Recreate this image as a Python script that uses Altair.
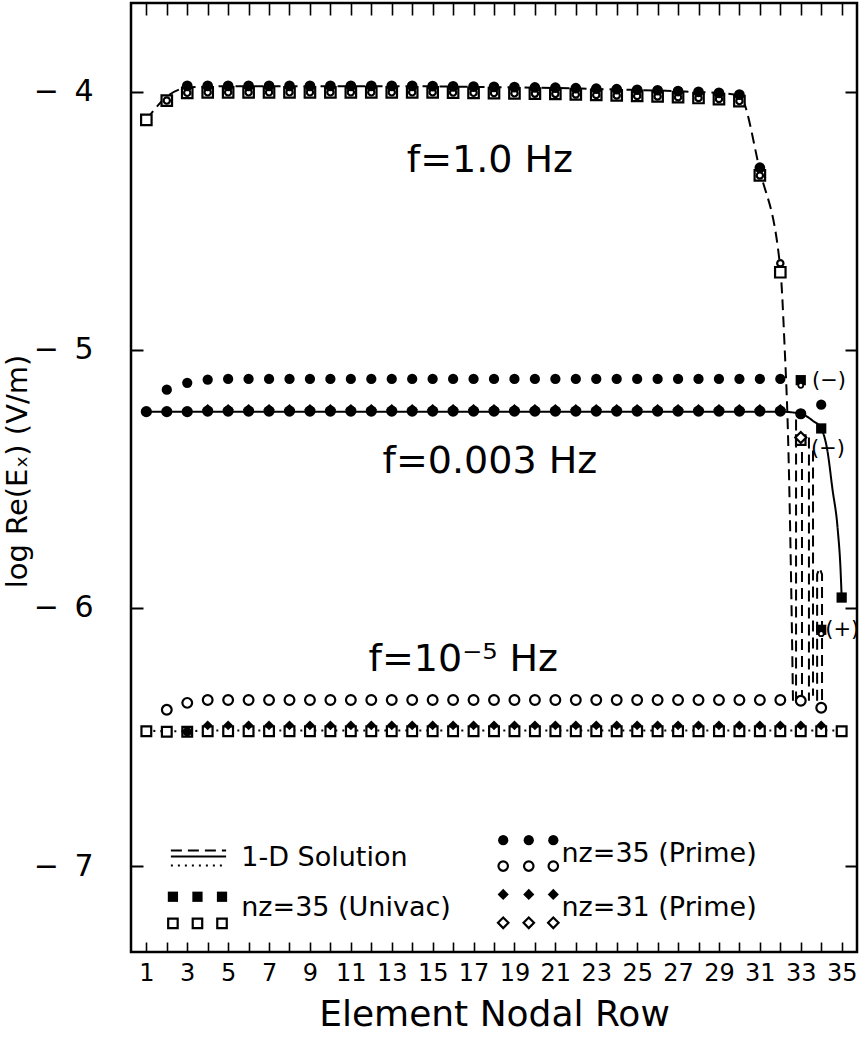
import altair as alt
import pandas as pd

FONT = "DejaVu Sans"

nodes = list(range(1, 36))
y_ticks = [-7, -6, -5, -4]

# ---------------- f = 1.0 Hz ----------------
f1_line_x = list(range(1, 33)) + [32.2, 32.4, 32.55, 32.62]
f1_line_y = [-4.11, -4.02, -3.985, -3.981, -3.979, -3.979, -3.979, -3.979, -3.979, -3.979,
             -3.979, -3.979, -3.979, -3.979, -3.980, -3.981, -3.982, -3.983, -3.984, -3.985,
             -3.986, -3.988, -3.990, -3.992, -3.994, -3.996, -3.999, -4.002, -4.006, -4.015,
             -4.306, -4.685, -4.97, -5.4, -6.0, -6.36]
f1_fc_x = list(range(3, 32))
f1_fc_y = [-3.978, -3.978, -3.978, -3.978, -3.978, -3.978, -3.978, -3.978, -3.978, -3.978,
           -3.978, -3.978, -3.979, -3.980, -3.981, -3.982, -3.983, -3.984, -3.985, -3.987,
           -3.989, -3.991, -3.993, -3.995, -3.998, -4.001, -4.005, -4.012, -4.295]
f1_os_x = list(range(1, 33))
f1_os_y = [-4.11, -4.035, -4.005, -4.003, -4.003, -4.003, -4.003, -4.003, -4.003, -4.003,
           -4.003, -4.003, -4.003, -4.003, -4.003, -4.004, -4.005, -4.006, -4.007, -4.008,
           -4.009, -4.011, -4.013, -4.015, -4.017, -4.019, -4.022, -4.025, -4.029, -4.037,
           -4.325, -4.70]
f1_oc_x = list(range(2, 33))
f1_oc_y = [-4.035, -4.005, -4.003, -4.003, -4.003, -4.003, -4.003, -4.003, -4.003, -4.003,
           -4.003, -4.003, -4.003, -4.003, -4.004, -4.005, -4.006, -4.007, -4.008, -4.009,
           -4.011, -4.013, -4.015, -4.017, -4.019, -4.022, -4.025, -4.029, -4.037, -4.325,
           -4.665]

# ---------------- f = 0.003 Hz ----------------
f2_line_x = list(range(1, 34)) + [33.6, 34, 34.3, 34.55, 34.8, 34.95, 35]
f2_line_y = [-5.24, -5.24, -5.24, -5.24, -5.24, -5.24, -5.24, -5.24, -5.24, -5.24,
             -5.24, -5.24, -5.24, -5.24, -5.24, -5.24, -5.24, -5.24, -5.24, -5.24,
             -5.24, -5.24, -5.24, -5.24, -5.24, -5.24, -5.24, -5.24, -5.24, -5.24,
             -5.24, -5.24, -5.248, -5.276, -5.305, -5.39, -5.54, -5.69, -5.86, -5.96]
f2_fc_up_x = list(range(2, 33)) + [34]
f2_fc_up_y = [-5.155, -5.128, -5.116, -5.113, -5.113, -5.113, -5.113, -5.113, -5.113, -5.113,
              -5.113, -5.113, -5.113, -5.113, -5.113, -5.113, -5.113, -5.113, -5.113, -5.113,
              -5.113, -5.113, -5.113, -5.113, -5.113, -5.113, -5.113, -5.113, -5.113, -5.113,
              -5.113, -5.213]
f2_fc_lo_x = list(range(1, 34))
f2_fc_lo_y = [-5.24, -5.24, -5.24, -5.238, -5.238, -5.238, -5.238, -5.238, -5.238, -5.238,
              -5.238, -5.238, -5.238, -5.238, -5.238, -5.238, -5.238, -5.238, -5.238, -5.238,
              -5.238, -5.238, -5.238, -5.238, -5.238, -5.238, -5.238, -5.238, -5.238, -5.238,
              -5.238, -5.238, -5.248]
f2_fd_x = list(range(4, 33))
f2_fd_y = [-5.232, -5.232, -5.232, -5.232, -5.232, -5.232, -5.232, -5.232, -5.232, -5.232,
           -5.232, -5.232, -5.232, -5.232, -5.232, -5.232, -5.232, -5.232, -5.232, -5.232,
           -5.232, -5.232, -5.232, -5.232, -5.232, -5.232, -5.232, -5.232, -5.232]
f2_fs_x = [33, 34, 35, 34]
f2_fs_y = [-5.118, -5.305, -5.96, -6.085]
f2_oc_x = [33, 34]
f2_oc_y = [-5.138, -6.1]
f2_od_x = [33]
f2_od_y = [-5.34]
f2_os_x = [33]
f2_os_y = [-5.35]

# sign-change branches of the 1-D solution (dashed)
br_id = ["a", "a", "b", "b", "c", "c", "d", "d", "e", "e", "e", "e", "e"]
br_x = [32.77, 32.77, 33.06, 33.06, 33.4, 33.4, 33.6, 33.6, 33.8, 33.8, 33.92, 34.04, 34.04]
br_y = [-5.27, -6.36, -5.33, -6.34, -5.34, -6.36, -5.39, -6.34, -6.36, -5.87, -5.845, -5.87, -6.36]

# ---------------- f = 1e-5 Hz ----------------
f3_line_x = list(range(1, 36))
f3_line_y = [-6.475, -6.478, -6.478, -6.475, -6.475, -6.475, -6.475, -6.475, -6.475, -6.475,
             -6.475, -6.475, -6.475, -6.475, -6.475, -6.475, -6.475, -6.475, -6.475, -6.475,
             -6.475, -6.475, -6.475, -6.475, -6.475, -6.475, -6.475, -6.475, -6.475, -6.475,
             -6.475, -6.475, -6.475, -6.475, -6.475]
f3_oc_up_x = list(range(2, 35))
f3_oc_up_y = [-6.395, -6.368, -6.357, -6.357, -6.357, -6.357, -6.357, -6.357, -6.357, -6.357,
              -6.357, -6.357, -6.357, -6.357, -6.357, -6.357, -6.357, -6.357, -6.357, -6.357,
              -6.357, -6.357, -6.357, -6.357, -6.357, -6.357, -6.357, -6.357, -6.357, -6.357,
              -6.357, -6.36, -6.387]
f3_os_x = list(range(1, 36))
f3_os_y = [-6.478, -6.48, -6.48, -6.478, -6.478, -6.478, -6.478, -6.478, -6.478, -6.478,
           -6.478, -6.478, -6.478, -6.478, -6.478, -6.478, -6.478, -6.478, -6.478, -6.478,
           -6.478, -6.478, -6.478, -6.478, -6.478, -6.478, -6.478, -6.478, -6.478, -6.478,
           -6.478, -6.478, -6.478, -6.478, -6.478]
f3_fd_x = list(range(4, 35))
f3_fd_y = [-6.455, -6.455, -6.455, -6.455, -6.455, -6.455, -6.455, -6.455, -6.455, -6.455,
           -6.455, -6.455, -6.455, -6.455, -6.455, -6.455, -6.455, -6.455, -6.455, -6.455,
           -6.455, -6.455, -6.455, -6.455, -6.455, -6.455, -6.455, -6.455, -6.455, -6.455,
           -6.455]
f3_fc_x = [3]
f3_fc_y = [-6.48]

# ---------------- annotations ----------------
lab_text = ["f=1.0  Hz", "f=0.003  Hz", "f=10⁻⁵  Hz"]
lab_x = [17.8, 17.8, 16.5]
lab_y = [-4.27, -5.435, -6.2]
sign_text = ["(−)", "(−)", "(+)"]
sign_x = [33.55, 33.5, 34.2]
sign_y = [-5.12, -5.385, -6.085]

# ---------------- legend ----------------
leg_line_id = ["dash", "dash", "solid", "solid", "dot", "dot"]
leg_line_x = [2.2, 4.9, 2.2, 4.9, 2.2, 4.9]
leg_line_y = [-6.94, -6.94, -6.963, -6.963, -6.998, -6.998]
leg_sym_x = [2.3, 3.5, 4.7]
leg_sym2_x = [18.45, 19.7, 20.9]
leg_fs_y = -7.119
leg_os_y = -7.222
leg_fc_y = -6.9
leg_oc_y = -7.0
leg_fd_y = -7.11
leg_od_y = -7.22
leg_text = ["1-D Solution", "nz=35  (Univac)", "nz=35  (Prime)", "nz=31  (Prime)"]
leg_text_x = [5.64, 5.64, 21.3, 21.3]
leg_text_y = [-6.968, -7.163, -6.953, -7.163]

# ---------------- build tables ----------------
def pts(xs, ys):
    return pd.DataFrame({"x": xs, "y": ys})

xscale = alt.Scale(domain=[0.25, 35.75], nice=False, zero=False)
yscale = alt.Scale(domain=[-7.333, -3.657], nice=False, zero=False)

X = alt.X("x:Q", scale=xscale, axis=None)
Y = alt.Y("y:Q", scale=yscale, axis=None)

def line_layer(df, dash, width=1.8, detail=False):
    enc = dict(x=X, y=Y, order=alt.Order("i:Q"))
    if detail:
        enc["detail"] = "g:N"
    m = alt.Chart(df).mark_line(color="black", strokeWidth=width, strokeDash=dash,
                                interpolate="monotone" if not detail else "linear")
    return m.encode(**enc)

def sym(df, shape, filled, size, sw=2.2):
    if filled:
        m = alt.Chart(df).mark_point(shape=shape, filled=True, color="black", size=size, opacity=1)
    else:
        m = alt.Chart(df).mark_point(shape=shape, filled=False, color="black", size=size,
                                     strokeWidth=sw, fill="white", fillOpacity=1, opacity=1)
    return m.encode(x=X, y=Y)

def with_idx(df):
    df = df.copy()
    df["i"] = range(len(df))
    return df

f1_line = with_idx(pts(f1_line_x, f1_line_y))
f2_line = with_idx(pts(f2_line_x, f2_line_y))
f3_line = with_idx(pts(f3_line_x, f3_line_y))
br = pd.DataFrame({"g": br_id, "x": br_x, "y": br_y})
br["i"] = range(len(br))
leg_lines = pd.DataFrame({"g": leg_line_id, "x": leg_line_x, "y": leg_line_y})
leg_lines["i"] = range(len(leg_lines))

DASH = [11, 6]
DOT = [2, 5]

layers = []
layers.append(line_layer(f1_line, DASH, width=2))
layers.append(line_layer(br, DASH, width=2, detail=True))
layers.append(line_layer(f2_line, [1, 0], width=2))
layers.append(line_layer(f3_line, DOT, width=2.2))
layers.append(line_layer(leg_lines[leg_lines.g == "dash"], DASH, width=2, detail=True))
layers.append(line_layer(leg_lines[leg_lines.g == "solid"], [1, 0], width=2, detail=True))
layers.append(line_layer(leg_lines[leg_lines.g == "dot"], DOT, width=2.2, detail=True))

# open symbols first (so filled ones sit on top where they overlap)
layers.append(sym(pts(f1_os_x, f1_os_y), "square", False, 110))
layers.append(sym(pts(f1_oc_x, f1_oc_y), "circle", False, 40))
layers.append(sym(pts(f1_fc_x, f1_fc_y), "circle", True, 115))

layers.append(sym(pts(f2_fc_up_x, f2_fc_up_y), "circle", True, 105))
layers.append(sym(pts(f2_fc_lo_x, f2_fc_lo_y), "circle", True, 125))
layers.append(sym(pts(f2_fd_x, f2_fd_y), "diamond", True, 125))
layers.append(sym(pts(f2_fs_x, f2_fs_y), "square", True, 105))
layers.append(sym(pts(f2_os_x, f2_os_y), "square", False, 90))
layers.append(sym(pts(f2_od_x, f2_od_y), "diamond", False, 120))
layers.append(sym(pts(f2_oc_x, f2_oc_y), "circle", False, 25, sw=1.8))

layers.append(sym(pts(f3_oc_up_x, f3_oc_up_y), "circle", False, 95))
layers.append(sym(pts(f3_os_x, f3_os_y), "square", False, 95))
layers.append(sym(pts(f3_fd_x, f3_fd_y), "diamond", True, 95))
layers.append(sym(pts(f3_fc_x, f3_fc_y), "circle", True, 85))

# legend symbols
layers.append(sym(pts(leg_sym_x, [leg_fs_y] * 3), "square", True, 105))
layers.append(sym(pts(leg_sym_x, [leg_os_y] * 3), "square", False, 90))
layers.append(sym(pts(leg_sym2_x, [leg_fc_y] * 3), "circle", True, 105))
layers.append(sym(pts(leg_sym2_x, [leg_oc_y] * 3), "circle", False, 90))
layers.append(sym(pts(leg_sym2_x, [leg_fd_y] * 3), "diamond", True, 125))
layers.append(sym(pts(leg_sym2_x, [leg_od_y] * 3), "diamond", False, 110))

# texts
layers.append(alt.Chart(pd.DataFrame({"t": lab_text, "x": lab_x, "y": lab_y})).mark_text(
    font=FONT, fontSize=38, color="black", align="center", baseline="middle").encode(
    x=X, y=Y, text="t:N"))
layers.append(alt.Chart(pd.DataFrame({"t": sign_text, "x": sign_x, "y": sign_y})).mark_text(
    font=FONT, fontSize=21, color="black", align="left", baseline="middle").encode(
    x=X, y=Y, text="t:N"))
layers.append(alt.Chart(pd.DataFrame({"t": leg_text, "x": leg_text_x, "y": leg_text_y})).mark_text(
    font=FONT, fontSize=27, color="black", align="left", baseline="middle").encode(
    x=X, y=Y, text="t:N"))

# axes (invisible carrier layers)
axdf = pts(nodes[:4], y_ticks)
ax_bottom_left = alt.Chart(axdf).mark_point(opacity=0).encode(
    x=alt.X("x:Q", scale=xscale, axis=alt.Axis(
        orient="bottom", values=nodes, offset=-10, tickSize=10, tickWidth=1.6,
        tickColor="black", domain=False, grid=False,
        labelExpr="datum.value % 2 == 1 ? datum.label : ''",
        labelFont=FONT, labelFontSize=24, labelColor="black", labelPadding=9,
        labelFlush=False, labelOverlap=False,
        title="Element Nodal Row", titleFont=FONT, titleFontSize=36,
        titleFontWeight="normal", titleColor="black", titleY=72, titleBaseline="middle")),
    y=alt.Y("y:Q", scale=yscale, axis=alt.Axis(
        orient="left", values=y_ticks, offset=-12, tickSize=12, tickWidth=2,
        tickColor="black", domain=False, grid=False,
        labelExpr="'−\u2009 ' + abs(datum.value)",
        labelFont=FONT, labelFontSize=30, labelColor="black", labelPadding=38,
        labelFlush=False, labelOverlap=False,
        title="log Re(Eₓ)  (V/m)", titleFont=FONT, titleFontSize=29,
        titleFontWeight="normal", titleColor="black", titleAngle=270,
        titleX=-126, titleY=468, titleAlign="center", titleBaseline="middle")),
)
ax_top_right = alt.Chart(axdf).mark_point(opacity=0).encode(
    x=alt.X("x:Q", scale=xscale, axis=alt.Axis(
        orient="top", values=nodes, offset=-12, tickSize=12, tickWidth=1.6,
        tickColor="black", domain=False, grid=False, labels=False, title=None)),
    y=alt.Y("y:Q", scale=yscale, axis=alt.Axis(
        orient="right", values=y_ticks, offset=-12, tickSize=12, tickWidth=2,
        tickColor="black", domain=False, grid=False, labels=False, title=None)),
)
layers = [ax_bottom_left, ax_top_right] + layers

chart = alt.layer(*layers).resolve_axis(x="independent", y="independent").properties(
    width=726, height=949,
    autosize=alt.AutoSizeParams(type="none"),
    padding={"left": 131, "top": 3, "right": 4, "bottom": 91},
    background="white",
).configure_view(stroke="black", strokeWidth=2.5)

chart.save("out.html", embed_options={"renderer": "svg", "actions": False})
